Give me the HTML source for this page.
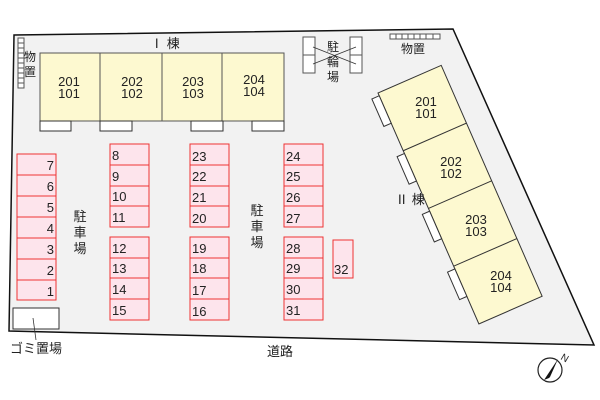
<!DOCTYPE html>
<html><head><meta charset="utf-8"><style>
body{margin:0;background:#fff}
svg{display:block}
text{font-family:"Liberation Sans","Noto Sans CJK JP",sans-serif;fill:#222}
</style></head><body>
<svg width="600" height="400" viewBox="0 0 600 400" xmlns="http://www.w3.org/2000/svg">
<polygon points="14,35 453,29 594,345 9,331" fill="#f2f2f2" stroke="#111" stroke-width="1.5"/>
<!-- storage left -->
<g fill="#fff" stroke="#555" stroke-width="1">
<rect x="18" y="38" width="6" height="5"/><rect x="18" y="43" width="6" height="5"/><rect x="18" y="48" width="6" height="5"/><rect x="18" y="53" width="6" height="5"/><rect x="18" y="58" width="6" height="5"/><rect x="18" y="63" width="6" height="5"/><rect x="18" y="68" width="6" height="5"/><rect x="18" y="73" width="6" height="5"/><rect x="18" y="78" width="6" height="5"/><rect x="18" y="83" width="6" height="5"/>
</g>
<text x="30" y="61" font-size="12" text-anchor="middle">物</text>
<text x="30" y="76" font-size="12" text-anchor="middle">置</text>
<!-- building I -->
<text x="165" y="48" font-size="13" text-anchor="middle">Ⅰ 棟</text>
<rect x="40" y="53" width="244" height="68" fill="#fdf9d0" stroke="#555"/>
<line x1="100" y1="53" x2="100" y2="121" stroke="#555"/><line x1="162" y1="53" x2="162" y2="121" stroke="#555"/><line x1="222" y1="53" x2="222" y2="121" stroke="#555"/>
<g fill="#fff" stroke="#333"><rect x="40" y="121" width="31" height="10"/><rect x="100" y="121" width="32" height="10"/><rect x="191" y="121" width="32" height="10"/><rect x="252" y="121" width="32" height="10"/></g>
<g font-size="13" text-anchor="middle">
<text x="69" y="86">201</text><text x="69" y="98">101</text>
<text x="132" y="86">202</text><text x="132" y="98">102</text>
<text x="193" y="86">203</text><text x="193" y="98">103</text>
<text x="254" y="84">204</text><text x="254" y="96">104</text>
</g>
<!-- bike parking -->
<g fill="#fff" stroke="#555"><rect x="303" y="37" width="12" height="36"/><rect x="350" y="37" width="12" height="36"/></g>
<line x1="303" y1="55" x2="315" y2="55" stroke="#555"/><line x1="350" y1="55" x2="362" y2="55" stroke="#555"/>
<g stroke="#333" stroke-width="0.8"><line x1="313" y1="47" x2="356" y2="64"/><line x1="313" y1="64" x2="356" y2="47"/></g>
<g font-size="12" text-anchor="middle"><text x="333" y="51">駐</text><text x="333" y="66">輪</text><text x="333" y="81">場</text></g>
<!-- storage right -->
<g fill="#fff" stroke="#555"><rect x="390" y="34" width="50" height="5"/></g>
<g stroke="#555"><line x1="396" y1="34" x2="396" y2="39"/><line x1="402" y1="34" x2="402" y2="39"/><line x1="408" y1="34" x2="408" y2="39"/><line x1="414" y1="34" x2="414" y2="39"/><line x1="420" y1="34" x2="420" y2="39"/><line x1="426" y1="34" x2="426" y2="39"/><line x1="433" y1="34" x2="433" y2="39"/></g>
<text x="413" y="53" font-size="12" text-anchor="middle">物置</text>
<!-- building II -->
<g transform="translate(378,93) rotate(-23.6)" stroke="#333">
<rect x="0" y="0" width="69" height="252" fill="#fdf9d0"/>
<line x1="0" y1="63" x2="69" y2="63"/><line x1="0" y1="126" x2="69" y2="126"/><line x1="0" y1="189" x2="69" y2="189"/>
<g fill="#fff"><rect x="-8" y="3" width="8" height="30"/><rect x="-8" y="66" width="8" height="30"/><rect x="-8" y="129" width="8" height="30"/><rect x="-8" y="192" width="8" height="30"/></g>
</g>
<g font-size="13" text-anchor="middle">
<text x="426" y="106">201</text><text x="426" y="118">101</text>
<text x="451" y="166">202</text><text x="451" y="178">102</text>
<text x="476" y="224">203</text><text x="476" y="236">103</text>
<text x="501" y="280">204</text><text x="501" y="292">104</text>
</g>
<text x="410" y="204" font-size="13" text-anchor="middle">Ⅱ 棟</text>
<!-- parking -->
<g fill="#fde4ec" stroke="#e33" stroke-width="1">
<rect x="17" y="154" width="39" height="21"/><rect x="17" y="175" width="39" height="21"/><rect x="17" y="196" width="39" height="21"/><rect x="17" y="217" width="39" height="21"/><rect x="17" y="238" width="39" height="21"/><rect x="17" y="259" width="39" height="21"/><rect x="17" y="280" width="39" height="20"/>
<rect x="110" y="144" width="39" height="21"/><rect x="110" y="165" width="39" height="21"/><rect x="110" y="186" width="39" height="20"/><rect x="110" y="206" width="39" height="21"/>
<rect x="110" y="237" width="39" height="21"/><rect x="110" y="258" width="39" height="20"/><rect x="110" y="278" width="39" height="21"/><rect x="110" y="299" width="39" height="21"/>
<rect x="190" y="144" width="39" height="21"/><rect x="190" y="165" width="39" height="21"/><rect x="190" y="186" width="39" height="20"/><rect x="190" y="206" width="39" height="21"/>
<rect x="190" y="237" width="39" height="21"/><rect x="190" y="258" width="39" height="20"/><rect x="190" y="278" width="39" height="21"/><rect x="190" y="299" width="39" height="21"/>
<rect x="284" y="144" width="39" height="21"/><rect x="284" y="165" width="39" height="21"/><rect x="284" y="186" width="39" height="20"/><rect x="284" y="206" width="39" height="21"/>
<rect x="284" y="237" width="39" height="21"/><rect x="284" y="258" width="39" height="20"/><rect x="284" y="278" width="39" height="21"/><rect x="284" y="299" width="39" height="21"/>
<rect x="333" y="240" width="20" height="38"/>
</g>
<g font-size="13" text-anchor="end">
<text x="54" y="170">7</text><text x="54" y="191">6</text><text x="54" y="212">5</text><text x="54" y="233">4</text><text x="54" y="254">3</text><text x="54" y="275">2</text><text x="54" y="296">1</text>
</g>
<g font-size="13">
<text x="112" y="160">8</text><text x="112" y="181">9</text><text x="112" y="201">10</text><text x="112" y="222">11</text>
<text x="112" y="253">12</text><text x="112" y="273">13</text><text x="112" y="294">14</text><text x="112" y="315">15</text>
<text x="192" y="161">23</text><text x="192" y="181">22</text><text x="192" y="202">21</text><text x="192" y="223">20</text>
<text x="192" y="253">19</text><text x="192" y="273">18</text><text x="192" y="295">17</text><text x="192" y="316">16</text>
<text x="286" y="161">24</text><text x="286" y="181">25</text><text x="286" y="202">26</text><text x="286" y="223">27</text>
<text x="286" y="253">28</text><text x="286" y="273">29</text><text x="286" y="294">30</text><text x="286" y="315">31</text>
<text x="334" y="274">32</text>
</g>
<g font-size="13" text-anchor="middle">
<text x="80" y="221">駐</text><text x="80" y="237">車</text><text x="80" y="253">場</text>
<text x="257" y="215">駐</text><text x="257" y="231">車</text><text x="257" y="247">場</text>
</g>
<!-- garbage -->
<rect x="13" y="308" width="46" height="21" fill="#fff" stroke="#333"/>
<line x1="33" y1="318" x2="36" y2="340" stroke="#333" stroke-width="0.8"/>
<text x="36" y="353" font-size="13" text-anchor="middle">ゴミ置場</text>
<text x="280" y="356" font-size="13" text-anchor="middle">道路</text>
<!-- compass -->
<circle cx="550" cy="370" r="12" fill="#fff" stroke="#222" stroke-width="1.2"/>
<polygon points="558,359 544,380 549,378 550,377" fill="#111"/>
<text x="560" y="359" font-size="10" transform="rotate(30 560 359)">N</text>
</svg>
</body></html>
